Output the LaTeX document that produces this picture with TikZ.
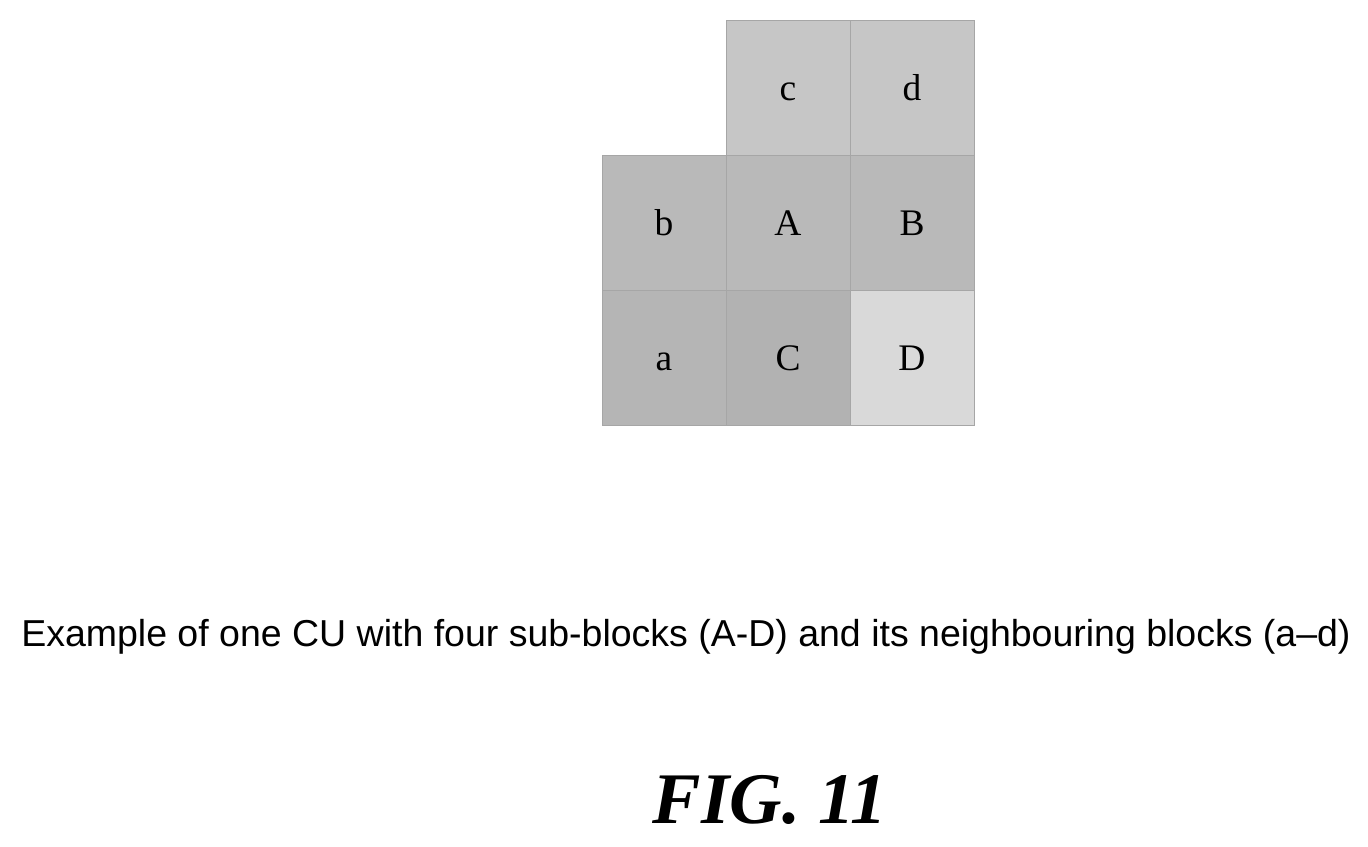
\documentclass[tikz,border=0pt]{standalone}
\usepackage{fontspec}
\setmainfont{Liberation Serif}
\newfontfamily\capfont{Liberation Sans}
\usetikzlibrary{positioning}
\tikzset{
  blk/.style={draw=gray!70, line width=0.6pt, minimum width=3.72cm, minimum height=4.05cm,
    inner sep=0pt, outer sep=0pt, text height=21pt, text depth=0pt,
    font=\fontsize{32}{32}\selectfont},
  nbr/.style={blk, fill=gray!50},
  cu/.style={blk, fill=gray!55},
}
\begin{document}
\begin{tikzpicture}[x=0.03cm, y=-0.03cm]
\useasboundingbox (0,0) rectangle (1368,847);
% CU with its sub-blocks
\node [cu] (A) at (788,223) {A};
\node [cu, right=0pt of A] (B) {B};
\node [cu, fill=gray!60, below=0pt of A] (C) {C};
\node [cu, fill=gray!30, right=0pt of C] (D) {D};
% neighbouring blocks
\node [nbr, fill=gray!58, left=0pt of C] (a) {a};
\node [nbr, fill=gray!55, left=0pt of A] (b) {b};
\node [nbr, fill=gray!45, above=0pt of A] (c) {c};
\node [nbr, fill=gray!45, above=0pt of B] (d) {d};
\node [font=\capfont\fontsize{32}{32}\selectfont] (cap) at (686,637)
  {Example of one CU with four sub-blocks (A-D) and its neighbouring blocks (a–d)};
\node [font=\bfseries\itshape\fontsize{62}{62}\selectfont] (fig) at (770,800) {FIG. 11};
\end{tikzpicture}
\end{document}
